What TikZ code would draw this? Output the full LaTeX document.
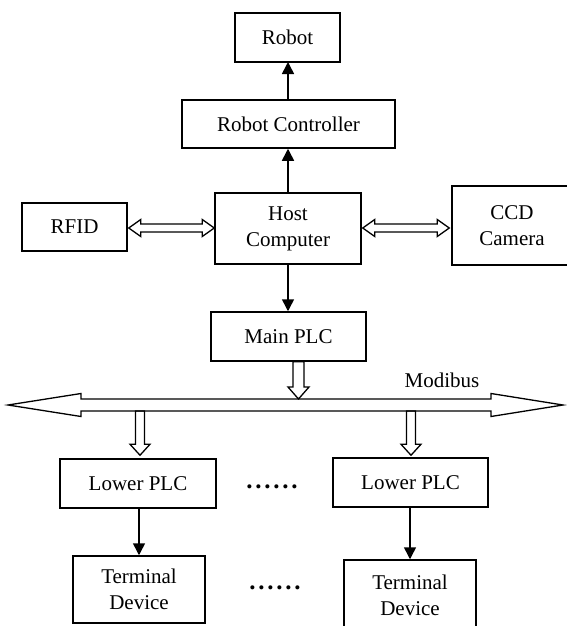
\documentclass[tikz,border=0pt]{standalone}
\usepackage{fontspec}
\setmainfont{Liberation Serif}
\usetikzlibrary{arrows.meta,calc}
\begin{document}
\begin{tikzpicture}[x=1pt,y=-1pt,
  box/.style={draw,line width=1.5pt,inner sep=0pt,align=center,font=\fontsize{21}{26}\selectfont},
  lbl/.style={inner sep=0pt,font=\fontsize{21}{26}\selectfont},
  dotlbl/.style={inner sep=0pt,font=\fontsize{25}{26}\selectfont\bfseries\addfontfeature{LetterSpace=11}},
  conn/.style={line width=1.5pt,-{Triangle[length=12pt,width=12pt]}},
  hollow/.style={draw,line width=1.3pt,fill=white,line join=miter}]
\useasboundingbox (0,0) rectangle (566,626);

\node[box,minimum width=105pt,minimum height=49pt] (robot) at (287.5,37.5) {Robot};
\node[box,minimum width=213pt,minimum height=48pt] (ctrl) at (288.5,124) {Robot Controller};
\node[box,minimum width=146pt,minimum height=71pt] (host) at (288,228.5) {Host\\Computer};
\node[box,minimum width=105pt,minimum height=48pt] (rfid) at (74.5,227) {RFID};
\node[box,minimum width=120pt,minimum height=79pt] (ccd) at (512,225.5) {CCD\\Camera};
\node[box,minimum width=155pt,minimum height=49pt] (main) at (288.5,336.5) {Main PLC};
\node[box,minimum width=156pt,minimum height=49pt] (lowL) at (138,483.5) {Lower PLC};
\node[box,minimum width=155pt,minimum height=49pt] (lowR) at (410.5,482.5) {Lower PLC};
\node[box,minimum width=132pt,minimum height=67pt] (termL) at (139,589.5) {Terminal\\Device};
\node[box,minimum width=132pt,minimum height=70pt] (termR) at (410,595) {Terminal\\Device};

\node[lbl] (modbus) at (442,380) {Modibus};
\node[dotlbl] (dots1) at (272,487) {......};
\node[dotlbl] (dots2) at (275,588) {......};

\coordinate (busL) at (8,405);
\coordinate (busR) at (563,405);

% filled arrows
\draw[conn] (ctrl.north -| 288,0) -- (288,62);
\draw[conn] (host.north -| 288,0) -- (ctrl.south -| 288,0);
\draw[conn] (host.south -| 288,0) -- (main.north -| 288,0);
\draw[conn] (lowL.south -| 139,0) -- (termL.north -| 139,0);
\draw[conn] (lowR.south -| 410,0) -- (termR.north -| 410,0);

% hollow horizontal arrows
\draw[hollow] let \p1=(rfid.east), \p2=(host.west) in
  (\x1+1,\y2+0.5) -- (\x1+13,\y2+9) -- (\x1+13,\y2+4.5) -- (\x2-12,\y2+4.5) -- (\x2-12,\y2+9) -- (\x2,\y2+0.5)
  -- (\x2-12,\y2-8) -- (\x2-12,\y2-3.5) -- (\x1+13,\y2-3.5) -- (\x1+13,\y2-8) -- cycle;
\draw[hollow] let \p1=(host.east), \p2=(ccd.west), \p3=(host.west) in
  (\x1+1,\y3+0.5) -- (\x1+13,\y3+9) -- (\x1+13,\y3+4.5) -- (\x2-14,\y3+4.5) -- (\x2-14,\y3+9) -- (\x2-2,\y3+0.5)
  -- (\x2-14,\y3-8) -- (\x2-14,\y3-3.5) -- (\x1+13,\y3-3.5) -- (\x1+13,\y3-8) -- cycle;

% hollow vertical arrows
\draw[hollow] let \p1=($(main.south)+(10,0)$), \p2=(busL) in
  (\x1-5.5,\y1) -- (\x1+5.5,\y1) -- (\x1+5.5,\y2+6+12) -- (\x1+10.5,\y2+6+12) -- (\x1,\y2+6)
  -- (\x1-10.5,\y2+6+12) -- (\x1-5.5,\y2+6+12) -- cycle;
\draw[hollow] let \p1=($(lowL.north)+(2,0)$), \p2=(busL) in
  (\x1-4.5,\y2-6) -- (\x1+4.5,\y2-6) -- (\x1+4.5,\y1+3+11) -- (\x1+10,\y1+3+11) -- (\x1,\y1+3)
  -- (\x1-10,\y1+3+11) -- (\x1-4.5,\y1+3+11) -- cycle;
\draw[hollow] let \p1=($(lowR.north)+(0.5,0)$), \p2=(busL) in
  (\x1-4.5,\y2-6) -- (\x1+4.5,\y2-6) -- (\x1+4.5,\y1+2+11) -- (\x1+10,\y1+2+11) -- (\x1,\y1+2)
  -- (\x1-10,\y1+2+11) -- (\x1-4.5,\y1+2+11) -- cycle;

% bus
\draw[line width=1.3pt,line join=miter] let \p1=(busL), \p2=(busR) in
  (\x1,\y1) -- (\x1+73,\y1+11.5) -- (\x1+73,\y1+6) -- (\x2-72,\y1+6) -- (\x2-72,\y1+11.5) -- (\x2,\y2)
  -- (\x2-72,\y2-11.5) -- (\x2-72,\y2-6) -- (\x1+73,\y2-6) -- (\x1+73,\y1-11.5) -- cycle;
\end{tikzpicture}
\end{document}
